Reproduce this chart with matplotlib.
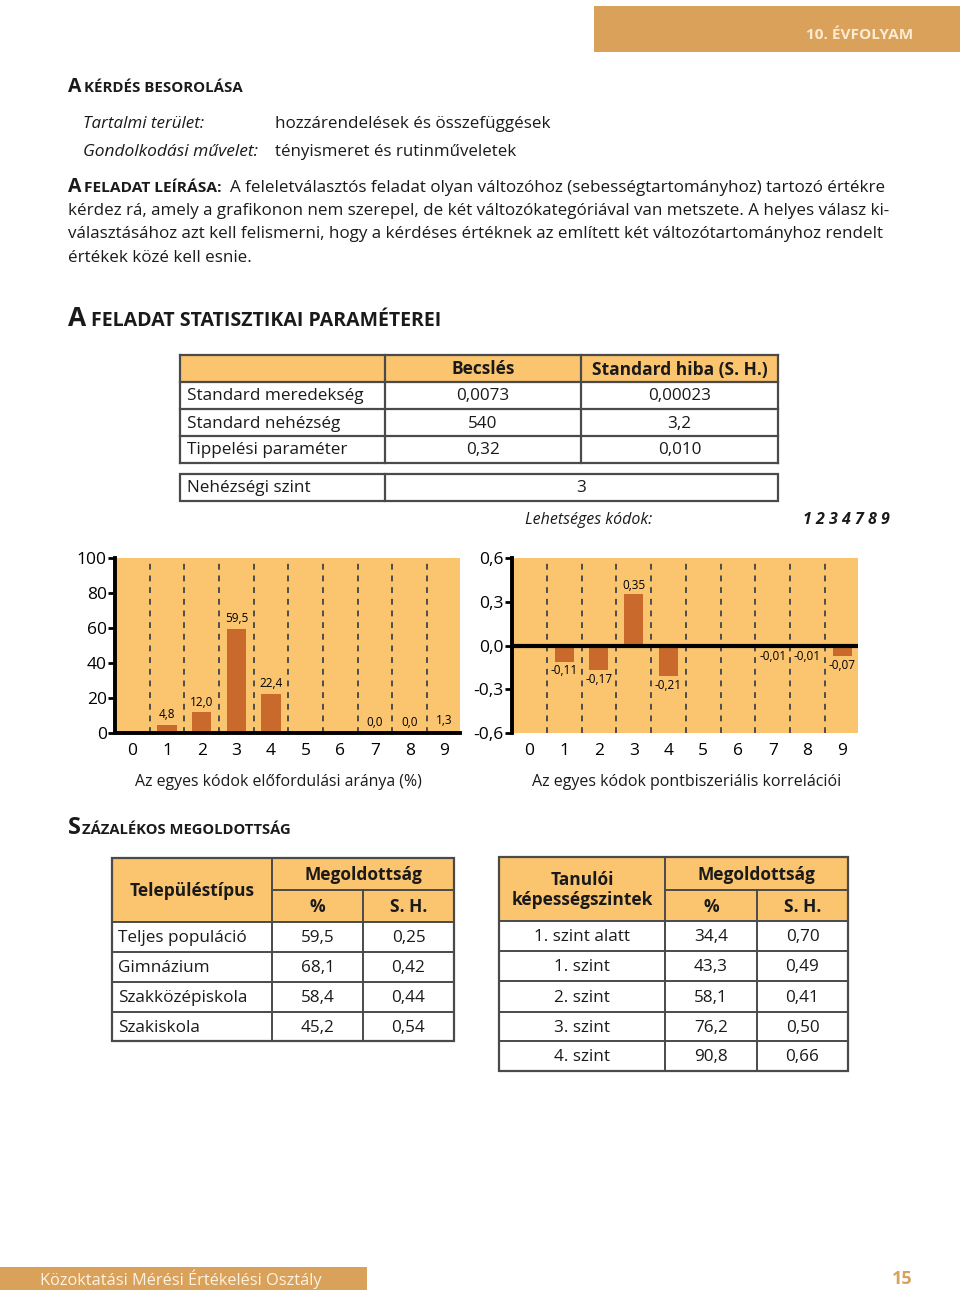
import matplotlib
matplotlib.use('Agg')
import matplotlib.pyplot as plt
from matplotlib.patches import Rectangle

# ---------------- data ----------------
freq_codes = [1, 2, 3, 4, 7, 8, 9]
freq_vals = [4.8, 12.0, 59.5, 22.4, 0.0, 0.0, 1.3]
corr_codes = [1, 2, 3, 4, 7, 8, 9]
corr_vals = [-0.11, -0.17, 0.35, -0.21, -0.01, -0.01, -0.07]
code_ticks = list(range(10))
freq_yticks = [0, 20, 40, 60, 80, 100]
corr_yticks = [-0.6, -0.3, 0.0, 0.3, 0.6]

param_rows = ['Standard meredekség', 'Standard nehézség', 'Tippelési paraméter']
param_est = ['0,0073', '540', '0,32']
param_se = ['0,00023', '3,2', '0,010']
param_header = ['Becslés', 'Standard hiba (S. H.)']
difficulty_level = '3'
possible_codes = '1 2 3 4 7 8 9'

settle_types = ['Teljes populáció', 'Gimnázium', 'Szakközépiskola', 'Szakiskola']
settle_pct = [59.5, 68.1, 58.4, 45.2]
settle_se = [0.25, 0.42, 0.44, 0.54]
levels = ['1. szint alatt', '1. szint', '2. szint', '3. szint', '4. szint']
level_pct = [34.4, 43.3, 58.1, 76.2, 90.8]
level_se = [0.70, 0.49, 0.41, 0.50, 0.66]

# ---------------- style ----------------
SANS = ['Open Sans', 'DejaVu Sans']
NARROW = ['Open Sans', 'DejaVu Sans']
plt.rcParams['font.family'] = SANS
HEAD = '#D9A15A'
LIGHT = '#FBC46F'
BAR = '#C9692C'
LINE = '#4a4a4a'
TXT = '#1a1a1a'

W, H = 960, 1295
fig = plt.figure(figsize=(9.6, 12.95), dpi=100)
ov = fig.add_axes([0, 0, 1, 1])
ov.set_xlim(0, W)
ov.set_ylim(H, 0)
ov.axis('off')
R = fig.canvas.get_renderer()


def comma(v, d):
    return f"{v:.{d}f}".replace('.', ',')


def txt(x, y, s, size=11, width=None, family=SANS, **kw):
    kw.setdefault('color', TXT)
    t = ov.text(x, y, s, fontsize=size, family=family, **kw)
    if width:
        w = t.get_window_extent(R).width
        t.set_fontsize(size * width / w)
    return t


def heading(x, y, big, rest, size_big, end_x, family=SANS, gap=4):
    t1 = txt(x, y, big, size_big, family=family, weight='bold', va='baseline')
    w1 = t1.get_window_extent(R).width
    x2 = x + w1 + gap
    return txt(x2, y, rest, 10, width=end_x - x2, family=family, weight='bold', va='baseline')


# ---------------- page header / footer ----------------
ov.add_patch(Rectangle((594, 6), 366, 46, color=HEAD, lw=0))
txt(913, 35, '10. ÉVFOLYAM', 10, width=107, family=NARROW, weight='bold',
    color='#FCEBD2', ha='right', va='center')
ov.add_patch(Rectangle((0, 1267), 367, 23, color=HEAD, lw=0))
txt(40, 1279, 'Közoktatási Mérési Értékelési Osztály', 10, width=282, family=NARROW,
    color='#FDF3E2', va='center')
txt(913, 1279, '15', 13, family=NARROW, weight='bold', color=HEAD, ha='right', va='center')

# ---------------- classification ----------------
heading(68, 92, 'A', 'KÉRDÉS BESOROLÁSA', 14, 243, family=NARROW, gap=3)
txt(83, 128, 'Tartalmi terület:', 11, width=121, family=NARROW, style='italic', va='baseline')
txt(275, 128, 'hozzárendelések és összefüggések', 11, width=276, family=NARROW, va='baseline')
txt(83, 156, 'Gondolkodási művelet:', 11, width=175, family=NARROW, style='italic', va='baseline')
txt(275, 156, 'tényismeret és rutinműveletek', 11, width=241, family=NARROW, va='baseline')

# ---------------- description ----------------
heading(68, 192, 'A', 'FELADAT LEÍRÁSA:', 14, 222, family=NARROW, gap=3)
l1 = txt(230, 192, 'A feleletválasztós feladat olyan változóhoz (sebességtartományhoz) tartozó értékre',
         11, width=657, family=NARROW, va='baseline')
l2 = txt(68, 215, 'kérdez rá, amely a grafikonon nem szerepel, de két változókategóriával van metszete. A helyes válasz ki-',
         11, width=822, family=NARROW, va='baseline')
txt(68, 238, 'választásához azt kell felismerni, hogy a kérdéses értéknek az említett két változótartományhoz rendelt',
    11, width=817, family=NARROW, va='baseline')
txt(68, 262, 'értékek közé kell esnie.', l2.get_fontsize(), family=NARROW, va='baseline')

# ---------------- statistics heading ----------------
heading(68, 326, 'A', 'FELADAT STATISZTIKAI PARAMÉTEREI', 19, 440, gap=5)

# ---------------- parameter table ----------------
xs = [180, 385, 581, 778]
ys = [355, 382, 409, 436, 463]
ov.add_patch(Rectangle((xs[0], ys[0]), xs[-1] - xs[0], ys[1] - ys[0], color=LIGHT, lw=0))
for yy in ys:
    ov.plot([xs[0], xs[-1]], [yy, yy], color=LINE, lw=1.6)
for xx in xs:
    ov.plot([xx, xx], [ys[0], ys[-1]], color=LINE, lw=1.6)
th = txt((xs[2] + xs[3]) / 2, (ys[0] + ys[1]) / 2 + 1, param_header[1], 12, width=175,
         weight='bold', ha='center', va='center')
txt((xs[1] + xs[2]) / 2, (ys[0] + ys[1]) / 2 + 1, param_header[0], th.get_fontsize(),
    weight='bold', ha='center', va='center')
for i, (lab, e, s) in enumerate(zip(param_rows, param_est, param_se)):
    yc = (ys[i + 1] + ys[i + 2]) / 2 + 1
    txt(187, yc, lab, 12.3, ha='left', va='center')
    txt((xs[1] + xs[2]) / 2, yc, e, 12.3, ha='center', va='center')
    txt((xs[2] + xs[3]) / 2, yc, s, 12.3, ha='center', va='center')

# difficulty box
ov.add_patch(Rectangle((180, 474), 598, 27, fill=False, ec=LINE, lw=1.6))
ov.plot([385, 385], [474, 501], color=LINE, lw=1.6)
txt(187, 488, 'Nehézségi szint', 12.3, va='center')
txt((385 + 778) / 2, 488, difficulty_level, 12.3, ha='center', va='center')

txt(525, 520, 'Lehetséges kódok:', 11.5, style='italic', va='center')
txt(890, 520, possible_codes, 11.5, style='italic', weight='bold', ha='right', va='center')

# ---------------- chart 1: frequencies ----------------
ax1 = fig.add_axes([115 / W, 1 - 733 / H, 345 / W, 175 / H])
ax1.set_facecolor(LIGHT)
for c in code_ticks[:-1]:
    ax1.axvline(c + 0.5, color='#4d4d4d', lw=1.4, ls=(0, (3, 3)), zorder=2)
ax1.bar(freq_codes, freq_vals, width=0.55, color=BAR, zorder=3)
for c, v in zip(freq_codes, freq_vals):
    ax1.text(c, v + 2, comma(v, 1), ha='center', va='bottom', fontsize=8.5, zorder=5)
ax1.set_xlim(-0.5, 9.45)
ax1.set_ylim(0, 100)
ax1.set_yticks(freq_yticks)
ax1.set_xticks(code_ticks)
ax1.tick_params(axis='y', direction='out', length=5, width=2, labelsize=12.5, pad=1)
ax1.tick_params(axis='x', length=0, labelsize=12.5, pad=7)
for sp in ['top', 'right']:
    ax1.spines[sp].set_visible(False)
for sp in ['left', 'bottom']:
    ax1.spines[sp].set_linewidth(2.8)
    ax1.spines[sp].set_zorder(6)
txt(278, 782, 'Az egyes kódok előfordulási aránya (%)', 12, width=286, ha='center', va='center')

# ---------------- chart 2: correlations ----------------
ax2 = fig.add_axes([512 / W, 1 - 733 / H, 346 / W, 175 / H])
ax2.set_facecolor(LIGHT)
for c in code_ticks[:-1]:
    ax2.axvline(c + 0.5, color='#4d4d4d', lw=1.4, ls=(0, (3, 3)), zorder=2)
ax2.bar(corr_codes, corr_vals, width=0.55, color=BAR, zorder=3)
ax2.axhline(0, color='black', lw=3, zorder=4)
for c, v in zip(corr_codes, corr_vals):
    if v < 0:
        ax2.text(c, v - 0.02, comma(v, 2), ha='center', va='top', fontsize=8.5, zorder=5)
    else:
        ax2.text(c, v + 0.02, comma(v, 2), ha='center', va='bottom', fontsize=8.5, zorder=5)
ax2.set_xlim(-0.5, 9.45)
ax2.set_ylim(-0.6, 0.6)
ax2.set_yticks(corr_yticks)
ax2.set_yticklabels([comma(t, 1) for t in corr_yticks])
ax2.set_xticks(code_ticks)
ax2.tick_params(axis='y', direction='out', length=5, width=2, labelsize=12.5, pad=1)
ax2.tick_params(axis='x', length=0, labelsize=12.5, pad=7)
for sp in ['top', 'right', 'bottom']:
    ax2.spines[sp].set_visible(False)
ax2.spines['left'].set_linewidth(2.8)
ax2.spines['left'].set_zorder(6)
txt(687, 782, 'Az egyes kódok pontbiszeriális korrelációi', 12, width=306, ha='center', va='center')

# ---------------- percentage heading ----------------
heading(68, 834, 'S', 'ZÁZALÉKOS MEGOLDOTTSÁG', 17, 290, gap=1)


def result_table(xs, ys, head1, labels, pct, se, label_align):
    ov.add_patch(Rectangle((xs[0], ys[0]), xs[-1] - xs[0], ys[2] - ys[0], color=LIGHT, lw=0))
    ov.add_patch(Rectangle((xs[0], ys[0]), xs[-1] - xs[0], ys[-1] - ys[0], fill=False, ec=LINE, lw=1.6))
    ov.plot([xs[1], xs[-1]], [ys[1], ys[1]], color=LINE, lw=1.4)
    for yy in ys[2:-1]:
        ov.plot([xs[0], xs[-1]], [yy, yy], color=LINE, lw=1.4)
    ov.plot([xs[1], xs[1]], [ys[0], ys[-1]], color=LINE, lw=1.4)
    ov.plot([xs[2], xs[2]], [ys[1], ys[-1]], color=LINE, lw=1.4)
    txt((xs[0] + xs[1]) / 2, (ys[0] + ys[2]) / 2 + 1, head1, 12.5, weight='bold',
        ha='center', va='center', linespacing=1.1)
    txt((xs[1] + xs[3]) / 2, (ys[0] + ys[1]) / 2 + 1, 'Megoldottság', 12.5, weight='bold',
        ha='center', va='center')
    txt((xs[1] + xs[2]) / 2, (ys[1] + ys[2]) / 2 + 1, '%', 12.5, weight='bold', ha='center', va='center')
    txt((xs[2] + xs[3]) / 2, (ys[1] + ys[2]) / 2 + 1, 'S. H.', 12.5, weight='bold', ha='center', va='center')
    for i, (lab, p, s) in enumerate(zip(labels, pct, se)):
        yc = (ys[i + 2] + ys[i + 3]) / 2 + 1
        if label_align == 'left':
            txt(xs[0] + 6, yc, lab, 12.3, va='center')
        else:
            txt((xs[0] + xs[1]) / 2, yc, lab, 12.3, ha='center', va='center')
        txt((xs[1] + xs[2]) / 2, yc, comma(p, 1), 12.3, ha='center', va='center')
        txt((xs[2] + xs[3]) / 2, yc, comma(s, 2), 12.3, ha='center', va='center')


result_table([112, 272, 363, 454], [858, 890, 922, 952, 982, 1012, 1041],
             'Településtípus', settle_types, settle_pct, settle_se, 'left')
result_table([499, 665, 757, 848], [857, 890, 921, 951, 981, 1012, 1041, 1071],
             'Tanulói\nképességszintek', levels, level_pct, level_se, 'center')

fig.savefig('out.png', dpi=100)
